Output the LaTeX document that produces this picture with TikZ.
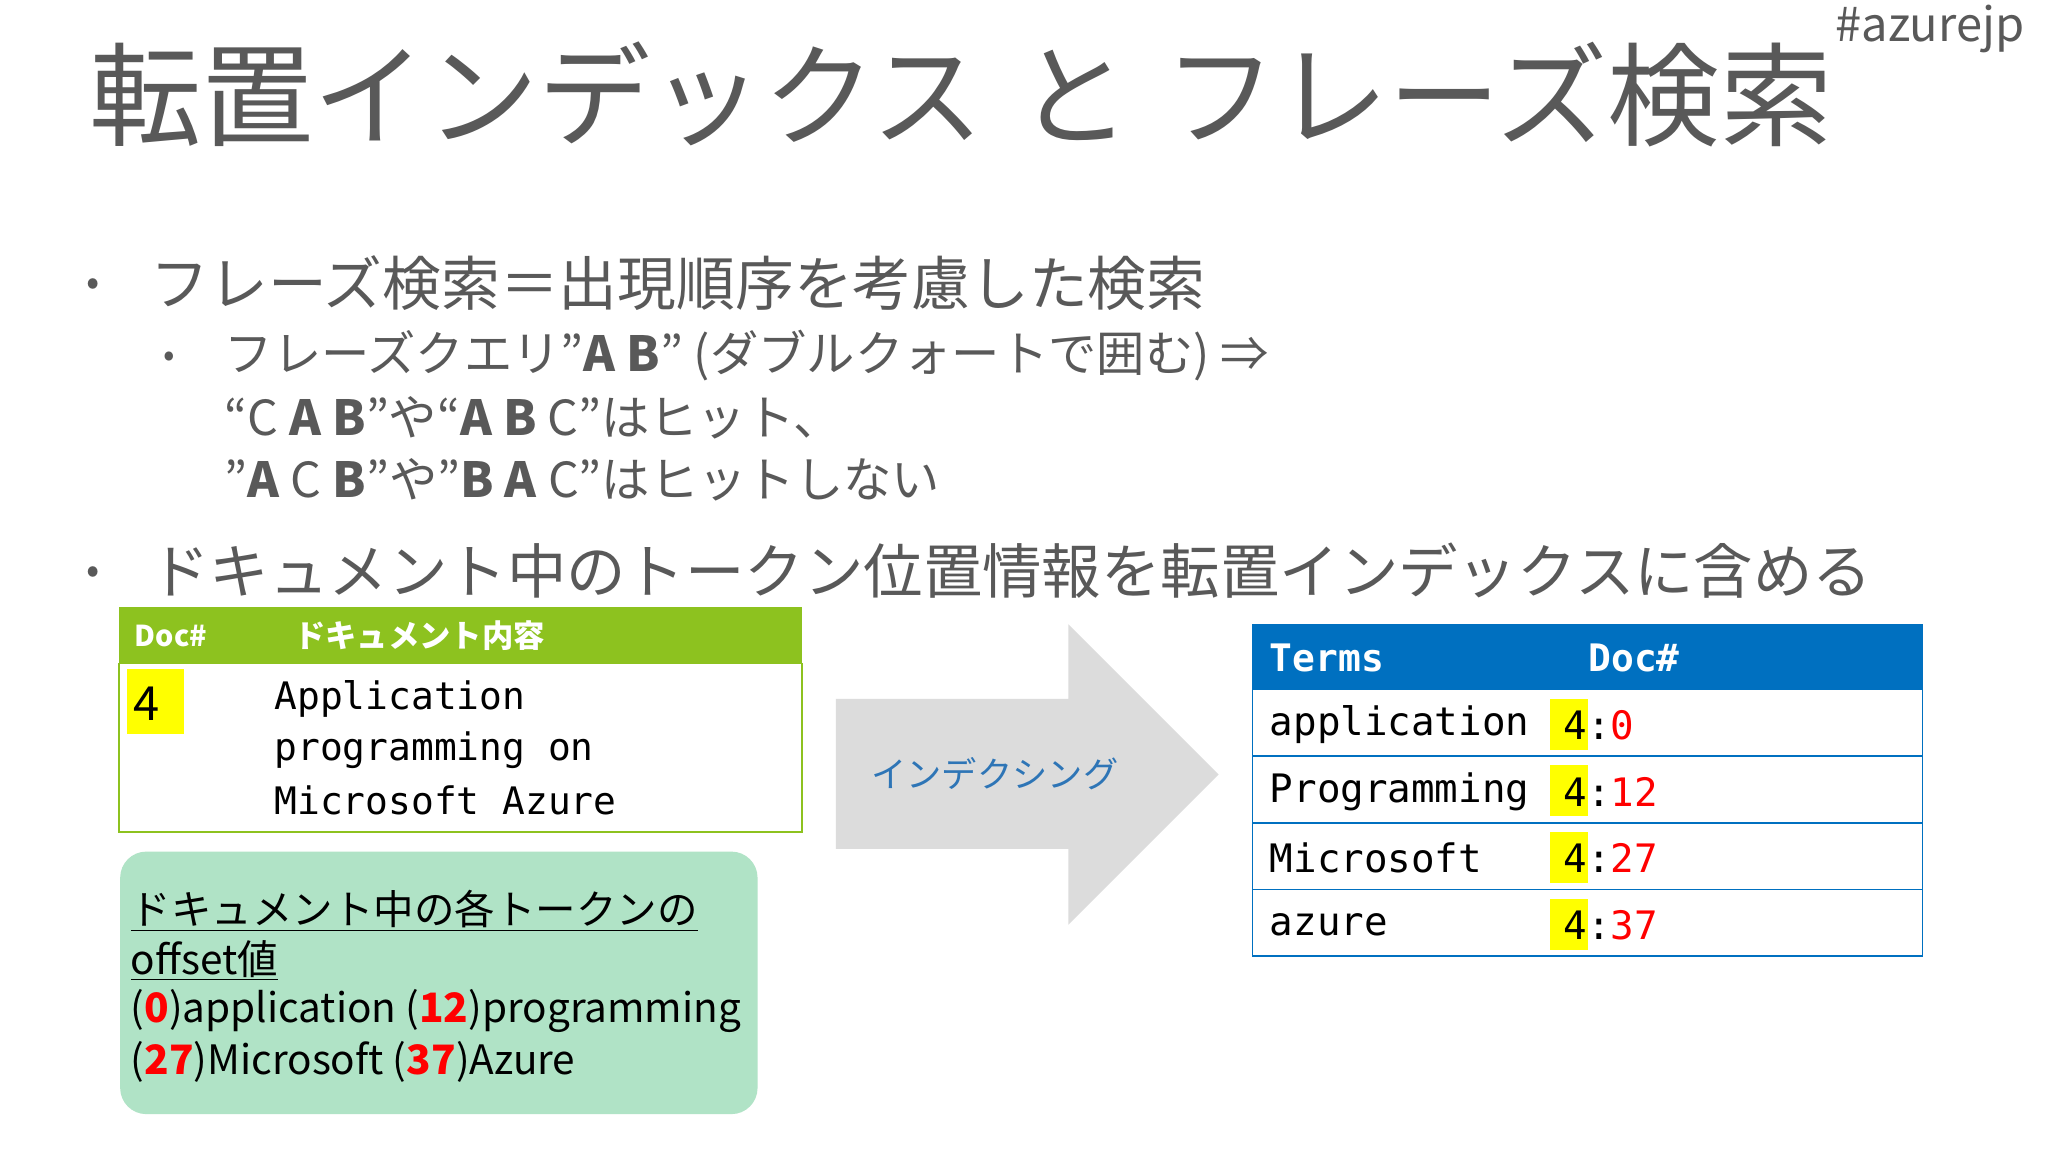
\documentclass[tikz,border=0pt]{standalone}
\usepackage{fontspec}
\setmainfont{Noto Sans CJK JP}
\newfontfamily\mono{DejaVu Sans Mono}
\newcommand{\fs}[1]{\fontsize{#1}{#1}\selectfont}
\definecolor{ttl}{HTML}{595959}
\definecolor{grn}{HTML}{8DC21F}
\definecolor{mint}{HTML}{B0E3C6}
\definecolor{blu}{HTML}{0070C0}
\definecolor{lbl}{HTML}{2E75B6}
\definecolor{arr}{HTML}{DCDCDC}
\definecolor{hl}{HTML}{FFFF00}
\newcommand{\R}[1]{\textcolor{red}{\textbf{#1}}}
\tikzset{t/.style={anchor=west,inner sep=0pt,text=ttl},
 m/.style={anchor=west,inner sep=0pt,font=\mono\fs{29}},
 row/.style={draw=blu,line width=1.2pt}}
\begin{document}
\begin{tikzpicture}[x=1pt,y=-1pt]
\useasboundingbox (0,0) rectangle (1568,882);
\fill[white] (0,0) rectangle (1568,882);
\node[t,font=\fs{86}] (title) at (68,72) {転置インデックス\hspace{0.3em}と\hspace{0.3em}フレーズ検索};
\node[t,font=\fs{36},anchor=north east] (tag) at (1550,4) {\#azurejp};
\node[t,font=\fs{30}] (b1) at (66,220) {•};
\node[t,font=\fs{45}] (l1) at (115,217) {フレーズ検索＝出現順序を考慮した検索};
\node[t,font=\fs{26}] (b2) at (125,275) {•};
\node[t,font=\fs{37}] (s1) at (172,272) {フレーズクエリ”\textbf{A B}”\ (ダブルクォートで囲む)\ ⇒};
\node[t,font=\fs{37}] (s2) at (172,320) {“C \textbf{A B}”や“\textbf{A B} C”はヒット、};
\node[t,font=\fs{37}] (s3) at (172,367) {”\textbf{A} C \textbf{B}”や”\textbf{B A} C”はヒットしない};
\node[t,font=\fs{30}] (b3) at (66,440) {•};
\node[t,font=\fs{45.5}] (l2) at (115,437) {ドキュメント中のトークン位置情報を転置インデックスに含める};
% left table
\fill[grn] (91,465) rectangle (614,508);
\draw[grn,line width=1.2pt] (91,508) rectangle (614,637);
\node[t,text=white,font=\bfseries\fs{22}] (dh) at (103,487) {Doc\#};
\node[t,text=white,font=\bfseries\fs{24}] (ch) at (225,487) {ドキュメント内容};
\fill[hl] (97,512) rectangle (141,562);
\node[t,text=black,font=\fs{36}] (d4) at (102,539) {4};
\node[m] (a1) at (210,535) {Application};
\node[m] (a2) at (210,574) {programming on};
\node[m] (a3) at (210,613) {Microsoft Azure};
% note box
\fill[mint,rounded corners=20pt] (92,652) rectangle (580,853);
\node[t,text=black,font=\fs{31}] (n1) at (100,697) {\underline{ドキュメント中の各トークンの}};
\node[t,text=black,font=\fs{31}] (n2) at (100,735) {\underline{offset値}};
\node[t,text=black,font=\fs{31}] (n3) at (100,774) {(\R{0})application (\R{12})programming};
\node[t,text=black,font=\fs{31}] (n4) at (100,813) {(\R{27})Microsoft (\R{37})Azure};
% arrow
\fill[arr] (640,535) -- (818,535) -- (818,478) -- (933,593) -- (818,708) -- (818,650) -- (640,650) -- cycle;
\node[t,text=lbl,font=\fs{27}] (ix) at (667,592) {インデクシング};
% right table
\fill[blu] (959,478) rectangle (1472,528);
\node[t,text=white,font=\mono\bfseries\fs{29}] (th) at (972,504) {Terms};
\node[t,text=white,font=\mono\bfseries\fs{29}] (th2) at (1216,504) {Doc\#};
\foreach \y/\w/\n [count=\i] in {528/application/0,579/Programming/12,630/Microsoft/27,681/azure/37}{
  \draw[row] (959,\y) rectangle (1472,\y+51);
  \fill[hl] (1187,\y+7) rectangle (1216,\y+46);
  \node[m,font=\mono\fs{30}] (w\i) at (972,\y+27) {\w};
  \node[m,font=\mono\fs{30}] (k\i) at (1197,\y+27) {4:\textcolor{red}{\n}};
}
\draw[blu,line width=1.2pt] (959,478) rectangle (1472,732);
\end{tikzpicture}
\end{document}
